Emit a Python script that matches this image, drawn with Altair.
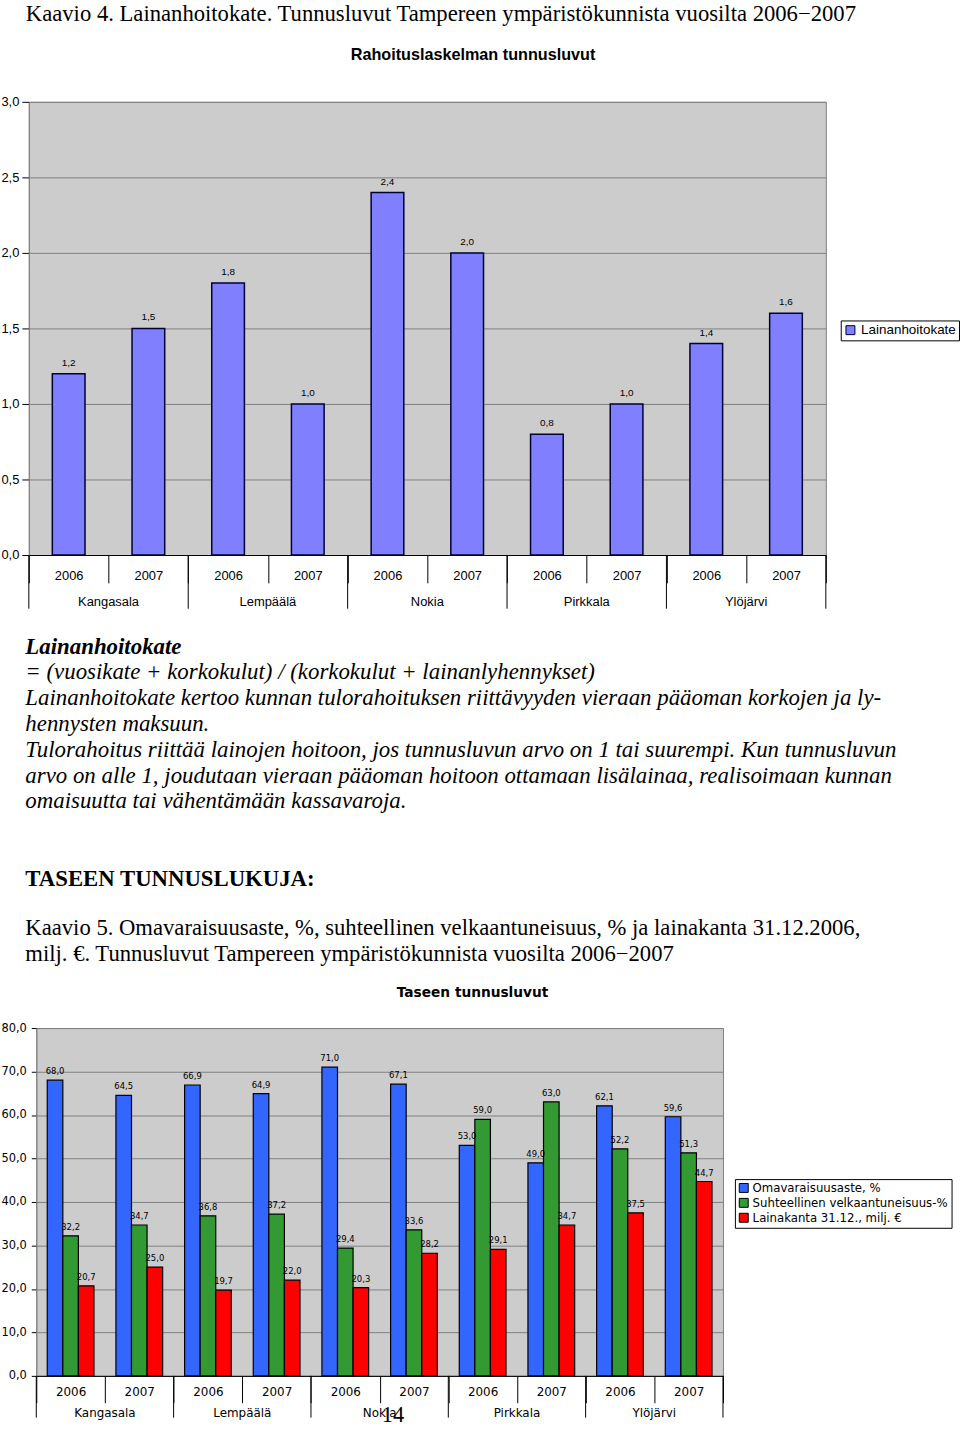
import altair as alt
import pandas as pd

# ---------------- data ----------------
kunnat = ["Kangasala", "Lempäälä", "Nokia", "Pirkkala", "Ylöjärvi"]
vuodet = ["2006", "2007"]
lainanhoitokate = [1.2, 1.5, 1.8, 1.0, 2.4, 2.0, 0.8, 1.0, 1.4, 1.6]
omavaraisuusaste = [68.0, 64.5, 66.9, 64.9, 71.0, 67.1, 53.0, 49.0, 62.1, 59.6]
velkaantuneisuus = [32.2, 34.7, 36.8, 37.2, 29.4, 33.6, 59.0, 63.0, 52.2, 51.3]
lainakanta = [20.7, 25.0, 19.7, 22.0, 20.3, 28.2, 29.1, 34.7, 37.5, 44.7]
sarja1 = ["Lainanhoitokate"]
vari1 = ["#8080FF"]
sarjat2 = ["Omavaraisuusaste, %", "Suhteellinen velkaantuneisuus-%", "Lainakanta 31.12., milj. €"]
varit2 = ["#3366FF", "#339933", "#FF0000"]
y1_ticks = [0.0, 0.5, 1.0, 1.5, 2.0, 2.5, 3.0]
y2_ticks = [0, 10, 20, 30, 40, 50, 60, 70, 80]

otsikko4 = "Kaavio 4. Lainanhoitokate. Tunnusluvut Tampereen ympäristökunnista vuosilta 2006\u22122007"
kaavio1_otsikko = "Rahoituslaskelman tunnusluvut"
teksti_otsikko = "Lainanhoitokate"
teksti_rivit = [
    "= (vuosikate + korkokulut) / (korkokulut + lainanlyhennykset)",
    "Lainanhoitokate kertoo kunnan tulorahoituksen riittävyyden vieraan pääoman korkojen ja ly-",
    "hennysten maksuun.",
    "Tulorahoitus riittää lainojen hoitoon, jos tunnusluvun arvo on 1 tai suurempi. Kun tunnusluvun",
    "arvo on alle 1, joudutaan vieraan pääoman hoitoon ottamaan lisälainaa, realisoimaan kunnan",
    "omaisuutta tai vähentämään kassavaroja.",
]
taseen_otsikko = "TASEEN TUNNUSLUKUJA:"
otsikko5 = [
    "Kaavio 5. Omavaraisuusaste, %, suhteellinen velkaantuneisuus, % ja lainakanta 31.12.2006,",
    "milj. €. Tunnusluvut Tampereen ympäristökunnista vuosilta 2006\u22122007",
]
kaavio2_otsikko = "Taseen tunnusluvut"
sivunumero = "14"

# ---------------- tables ----------------
keys = [f"{k}|{v}" for k in kunnat for v in vuodet]
df1 = pd.DataFrame({
    "key": keys,
    "kunta": [k for k in kunnat for v in vuodet],
    "value": lainanhoitokate,
    "sarja": sarja1 * len(keys),
})
rows = []
for s, vals in zip(sarjat2, [omavaraisuusaste, velkaantuneisuus, lainakanta]):
    for k, v in zip(keys, vals):
        rows.append({"key": k, "sarja": s, "value": v})
df2 = pd.DataFrame(rows)
dfk = pd.DataFrame({"key": [f"{k}|{vuodet[0]}" for k in kunnat], "kunta": kunnat})
dfend = pd.DataFrame({"key": [keys[-1]]})

FMT = "replace(format(datum.value, '.1f'), '.', ',')"
SANS = "Liberation Sans"
SERIF = "Liberation Serif"
DV = "DejaVu Sans"


def txt(text, x, y, size, font=SERIF, style="normal", weight="normal", align="left"):
    return alt.Chart(pd.DataFrame({"t": [text]})).mark_text(
        align=align, baseline="alphabetic", fontSize=size, font=font,
        fontStyle=style, fontWeight=weight, color="#000000",
    ).encode(text="t:N", x=alt.value(x), y=alt.value(y))


# ---------------- chart 1 ----------------
W1, H1 = 802, 456
x1 = alt.X("key:N", sort=keys, scale=alt.Scale(paddingInner=0, paddingOuter=0),
           axis=alt.Axis(title=None, labelExpr="split(datum.value, '|')[1]", labelAngle=0,
                         tickBand="extent", tickSize=28, tickColor="#000000", domainColor="#000000",
                         labelPadding=-13, labelFont=SANS, labelFontSize=13, labelColor="#000000",
                         grid=False))
y1 = alt.Y("value:Q", scale=alt.Scale(domain=[0, 3], nice=False),
           axis=alt.Axis(title=None, values=y1_ticks, labelExpr=FMT, tickSize=7, labelPadding=3,
                         labelFont=SANS, labelFontSize=13, labelColor="#000000",
                         gridColor="#808080", tickColor="#000000", domainColor="#808080"))

bars1 = alt.Chart(df1).mark_bar(width={"band": 0.41}, stroke="#000033", strokeWidth=1.5).encode(
    x=x1, y=y1,
    color=alt.Color("sarja:N", scale=alt.Scale(domain=sarja1, range=vari1),
                    legend=alt.Legend(orient="none", legendX=817, legendY=220, title=None,
                                      strokeColor="#000000", fillColor="#FFFFFF", padding=3,
                                      labelFont=SANS, labelFontSize=13.5, labelColor="#000000",
                                      symbolType="square", symbolSize=81, symbolStrokeColor="#000033",
                                      symbolStrokeWidth=1, labelOffset=4, labelLimit=300)),
)
labels1 = alt.Chart(df1).transform_calculate(lbl=FMT).mark_text(
    baseline="middle", dy=-11, fontSize=10, font=SANS, color="#000000"
).encode(x=alt.X("key:N", sort=keys), y=alt.Y("value:Q"), text="lbl:N")
rules1 = alt.Chart(dfk).mark_rule(color="#000000", strokeWidth=1).encode(
    x=alt.X("key:N", sort=keys, bandPosition=0), y=alt.value(H1), y2=alt.value(H1 + 54))
rule1_end = alt.Chart(dfend).mark_rule(color="#000000", strokeWidth=1).encode(
    x=alt.X("key:N", sort=keys, bandPosition=1), y=alt.value(H1), y2=alt.value(H1 + 54))
kunta1 = alt.Chart(dfk).mark_text(baseline="middle", fontSize=13, font=SANS, color="#000000").encode(
    x=alt.X("key:N", sort=keys, bandPosition=1), y=alt.value(H1 + 47), text="kunta:N")

c1 = alt.layer(
    bars1, labels1, rules1, rule1_end, kunta1,
    txt(otsikko4, -3, -81, 22.8),
    txt(kaavio1_otsikko, 447, -42, 16.3, font=SANS, weight="bold", align="center"),
).properties(width=W1, height=H1)

# ---------------- chart 2 ----------------
W2, H2 = 691, 350
x2 = alt.X("key:N", sort=keys, scale=alt.Scale(paddingInner=0, paddingOuter=0),
           axis=alt.Axis(title=None, labelExpr="split(datum.value, '|')[1]", labelAngle=0,
                         tickBand="extent", tickSize=27, tickColor="#000000", domainColor="#000000",
                         labelPadding=-16, labelFont=DV, labelFontSize=12, labelColor="#000000",
                         grid=False))
y2 = alt.Y("value:Q", scale=alt.Scale(domain=[0, 80], nice=False),
           axis=alt.Axis(title=None, values=y2_ticks, labelExpr=FMT, tickSize=5, labelPadding=5,
                         labelFont=DV, labelFontSize=11.5, labelColor="#000000",
                         gridColor="#808080", tickColor="#000000", domainColor="#808080"))
xo2 = alt.XOffset("sarja:N", sort=sarjat2, scale=alt.Scale(paddingOuter=0.705, paddingInner=0))

bars2 = alt.Chart(df2).mark_bar(stroke="#000000", strokeWidth=1.2).encode(
    x=x2, y=y2, xOffset=xo2,
    color=alt.Color("sarja:N", sort=sarjat2, scale=alt.Scale(domain=sarjat2, range=varit2),
                    legend=alt.Legend(orient="none", legendX=703, legendY=152, title=None,
                                      strokeColor="#000000", fillColor="#FFFFFF", padding=3,
                                      labelFont=DV, labelFontSize=11.8, labelColor="#000000",
                                      symbolType="square", symbolSize=81, symbolStrokeColor="#000000",
                                      symbolStrokeWidth=1, labelOffset=3, rowPadding=1,
                                      labelLimit=400)),
)
labels2 = alt.Chart(df2).transform_calculate(lbl=FMT).mark_text(
    baseline="middle", dy=-9, fontSize=8.5, font=DV, color="#000000"
).encode(x=alt.X("key:N", sort=keys), xOffset=xo2, y=alt.Y("value:Q"), text="lbl:N")
rules2 = alt.Chart(dfk).mark_rule(color="#000000", strokeWidth=1).encode(
    x=alt.X("key:N", sort=keys, bandPosition=0), y=alt.value(H2), y2=alt.value(H2 + 42))
rule2_end = alt.Chart(dfend).mark_rule(color="#000000", strokeWidth=1).encode(
    x=alt.X("key:N", sort=keys, bandPosition=1), y=alt.value(H2), y2=alt.value(H2 + 42))
kunta2 = alt.Chart(dfk).mark_text(baseline="middle", fontSize=12, font=DV, color="#000000").encode(
    x=alt.X("key:N", sort=keys, bandPosition=1), y=alt.value(H2 + 37), text="kunta:N")

text_layers = [txt(teksti_otsikko, -11, -376, 23, style="italic", weight="bold")]
for i, line in enumerate(teksti_rivit):
    text_layers.append(txt(line, -11, -351 + 26 * i, 23, style="italic"))
text_layers.append(txt(taseen_otsikko, -11, -143, 22.9, weight="bold"))
text_layers.append(txt(otsikko5[0], -11, -94, 22.8))
text_layers.append(txt(otsikko5[1], -11, -67, 22.8))
text_layers.append(txt(kaavio2_otsikko, 439, -31.5, 13.8, font=DV, weight="bold", align="center"))
text_layers.append(txt(sivunumero, 359, 396, 22.5, align="center"))

c2 = alt.layer(bars2, labels2, rules2, rule2_end, kunta2, *text_layers).properties(width=W2, height=H2)

chart = alt.vconcat(c1, c2, spacing=26, center=True).resolve_scale(
    color="independent").resolve_legend(color="independent").properties(
    padding={"left": 0, "top": -2, "right": 0, "bottom": 0}, background="#FFFFFF"
).configure_view(fill="#CCCCCC", stroke="#808080", strokeWidth=1)

chart.save("out.html", embed_options={"renderer": "svg", "actions": False})
